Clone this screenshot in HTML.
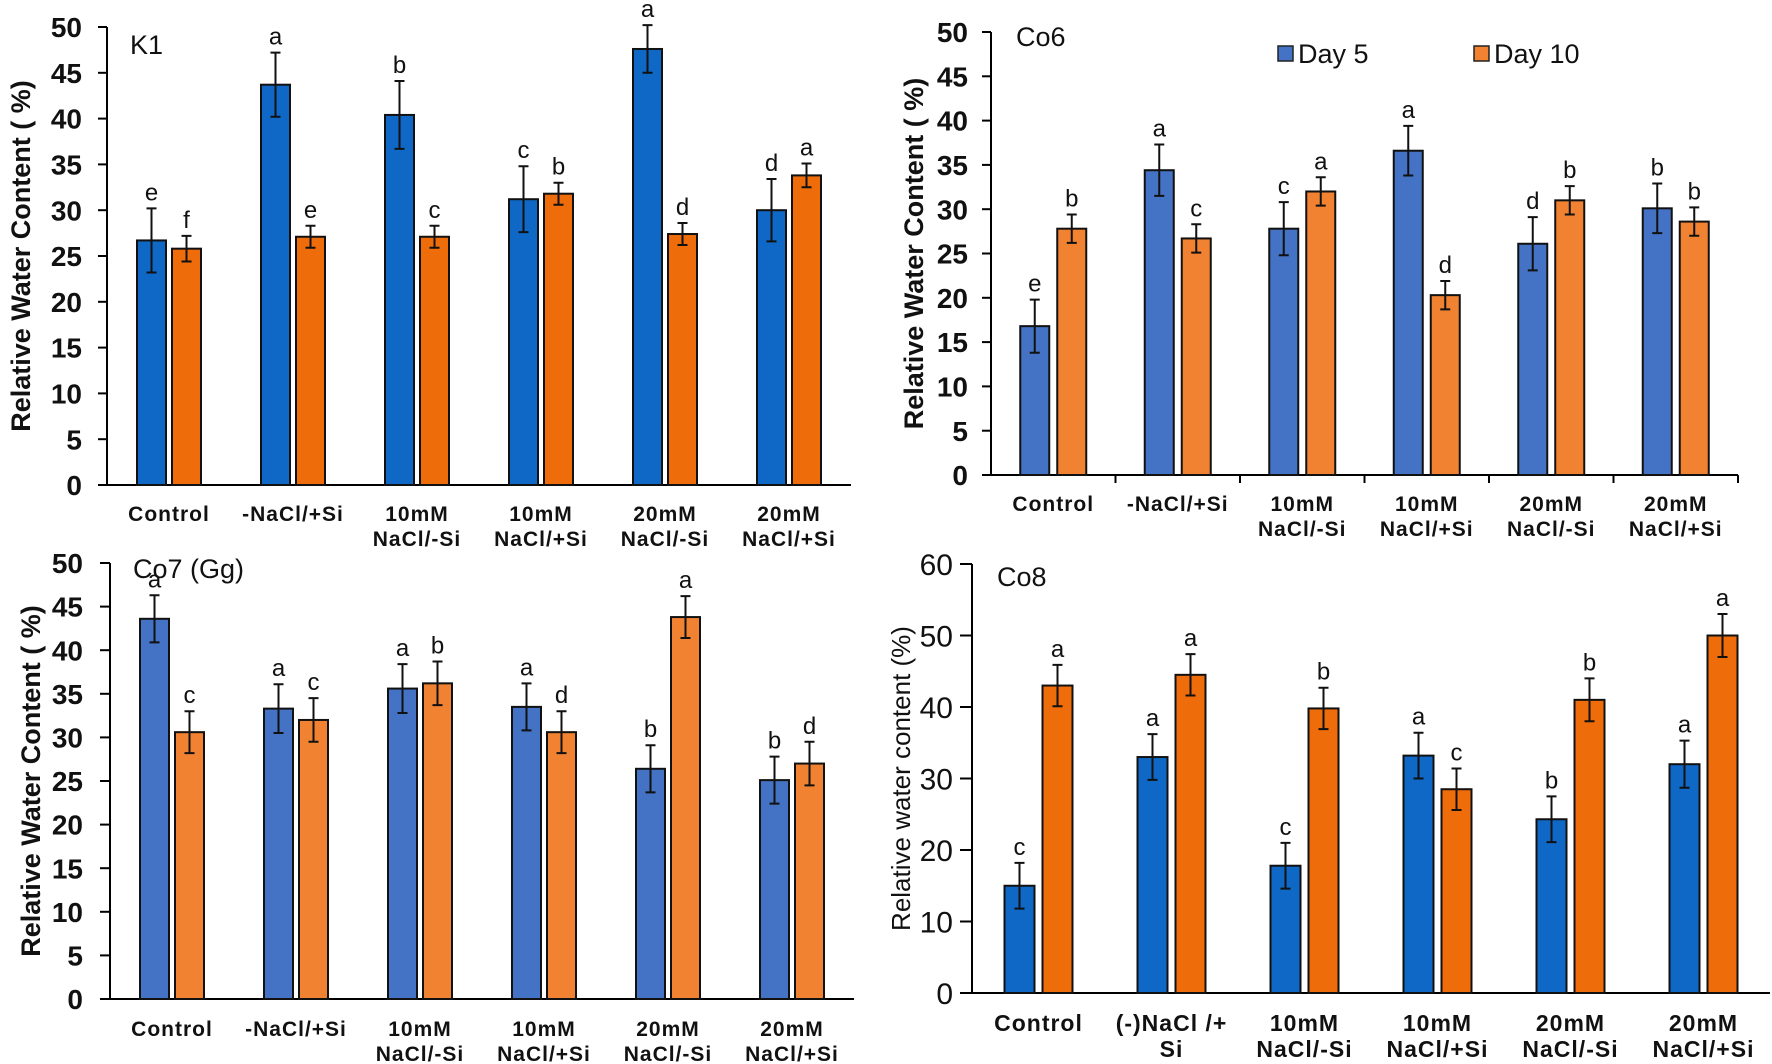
<!DOCTYPE html>
<html><head><meta charset="utf-8">
<style>
html,body{margin:0;padding:0;background:#fff;}
svg{display:block;font-family:"Liberation Sans",Arial,sans-serif;}
</style></head>
<body>
<svg id="fig" width="1772" height="1064" viewBox="0 0 1772 1064" xmlns="http://www.w3.org/2000/svg"></svg>
<script>
const categories1 = [["Control"],["-NaCl/+Si"],["10mM","NaCl/-Si"],["10mM","NaCl/+Si"],["20mM","NaCl/-Si"],["20mM","NaCl/+Si"]];
const categories4 = [["Control"],["(-)NaCl /+","Si"],["10mM","NaCl/-Si"],["10mM","NaCl/+Si"],["20mM","NaCl/-Si"],["20mM","NaCl/+Si"]];
const ticks50 = [0,5,10,15,20,25,30,35,40,45,50];
const ticks60 = [0,10,20,30,40,50,60];

const k1Day5 = [26.7,43.7,40.4,31.2,47.6,30.0];
const k1Day5Err = [3.5,3.5,3.7,3.6,2.6,3.4];
const k1Day10 = [25.8,27.1,27.1,31.8,27.4,33.8];
const k1Day10Err = [1.4,1.2,1.2,1.2,1.2,1.3];
const k1Let5 = ["e","a","b","c","a","d"];
const k1Let10 = ["f","e","c","b","d","a"];

const co6Day5 = [16.8,34.4,27.8,36.6,26.1,30.1];
const co6Day5Err = [3.0,2.9,3.0,2.8,3.0,2.8];
const co6Day10 = [27.8,26.7,32.0,20.3,31.0,28.6];
const co6Day10Err = [1.6,1.6,1.6,1.6,1.6,1.6];
const co6Let5 = ["e","a","c","a","d","b"];
const co6Let10 = ["b","c","a","d","b","b"];

const co7Day5 = [43.6,33.3,35.6,33.5,26.4,25.1];
const co7Day5Err = [2.7,2.8,2.8,2.7,2.7,2.7];
const co7Day10 = [30.6,32.0,36.2,30.6,43.8,27.0];
const co7Day10Err = [2.4,2.5,2.5,2.4,2.4,2.5];
const co7Let5 = ["a","a","a","a","b","b"];
const co7Let10 = ["c","c","b","d","a","d"];

const co8Day5 = [15.0,33.0,17.8,33.2,24.3,32.0];
const co8Day5Err = [3.2,3.2,3.2,3.2,3.2,3.3];
const co8Day10 = [43.0,44.5,39.8,28.5,41.0,50.0];
const co8Day10Err = [2.9,2.9,2.9,2.9,3.0,3.0];
const co8Let5 = ["c","a","c","a","b","a"];
const co8Let10 = ["a","a","b","c","b","a"];

const NS="http://www.w3.org/2000/svg";
const svg=document.getElementById('fig');
function mk(tag,attrs,parent){const e=document.createElementNS(NS,tag);for(const k in attrs)e.setAttribute(k,attrs[k]);(parent||svg).appendChild(e);return e;}

function panel(o){
  const g=mk('g',{});
  
  
  const yMax=o.ticks[o.ticks.length-1];
  const y=v=>o.y0-(v/yMax)*(o.y0-o.yTop);
  const x=i=>o.x0+o.cw*(i+0.5);
  const ya=mk('line',{x1:o.x0,y1:o.yTop,x2:o.x0,y2:o.y0,stroke:'#000','stroke-width':2},g);
  
  
  const xa=mk('line',{x1:o.x0,y1:o.y0,x2:o.x0+o.cw*6,y2:o.y0,stroke:'#000','stroke-width':2},g);
  
  
  o.ticks.forEach(t=>{
    mk('line',{x1:o.x0-o.tl,y1:y(t),x2:o.x0,y2:y(t),stroke:'#000','stroke-width':2},g);
    const tx=mk('text',{x:o.tickRight,y:y(t)+o.tickSize*0.36,'text-anchor':'end','font-size':o.tickSize,'font-weight':o.tickBold?'bold':'normal',fill:'#111'},g);
    tx.textContent=t;
    
    
  });
  if(o.catTicks){for(let i=1;i<=6;i++){mk('line',{x1:o.x0+o.cw*i,y1:o.y0,x2:o.x0+o.cw*i,y2:o.y0+8,stroke:'#000','stroke-width':2},g);}}
  const yt=mk('text',{x:0,y:0,transform:`translate(${o.ytX},${(o.yTop+o.y0)/2}) rotate(-90)`,'text-anchor':'middle','font-size':o.ytSize,'font-weight':o.ytBold?'bold':'normal',fill:'#111'},g);
  yt.textContent=o.yTitle;
  
  
  const pt=mk('text',{x:o.titleX,y:o.titleY,'font-size':27,fill:'#111'},g);
  pt.textContent=o.title;
  
  
  o.cats.forEach((c,i)=>{
    c.forEach((line,j)=>{
      const t=mk('text',{x:x(i),y:o.catY+j*o.catGap,'text-anchor':'middle','font-size':o.catSize,'font-weight':'bold','letter-spacing':1,fill:'#111'},g);
      t.textContent=line;
      
      
    });
  });
  const series=[[o.d5,o.e5,o.l5,o.c5,-o.off],[o.d10,o.e10,o.l10,o.c10,o.off]];
  series.forEach((s,si)=>{
    s[0].forEach((v,i)=>{
      const cx=x(i)+s[4];
      const r=mk('rect',{x:cx-o.bw/2,y:y(v),width:o.bw,height:o.y0-y(v),fill:s[3],stroke:'#111','stroke-width':2},g);
      
      
      const hi=y(v+s[1][i]),lo=y(v-s[1][i]);
      const eb=mk('path',{d:`M${cx},${hi}V${lo}M${cx-5},${hi}H${cx+5}M${cx-5},${lo}H${cx+5}`,stroke:'#111','stroke-width':2,fill:'none'},g);
      
      
      const lt=mk('text',{x:cx,y:hi-8,'text-anchor':'middle','font-size':24,fill:'#111'},g);
      lt.textContent=s[2][i];
      
      
    });
  });
}

const B1='#1068c6',O1='#ee6c0a',B2='#4472c4',O2='#f08232';
panel({name:'panel-k1',x0:107,cw:124,y0:485,yTop:27,ticks:ticks50,tl:9,tickRight:82,tickSize:28,tickBold:true,catTicks:false,
  ytX:30,ytSize:27,ytBold:true,yTitle:'Relative Water Content ( %)',title:'K1',titleX:130,titleY:54,cats:categories1,catY:521,catGap:25,catSize:21,
  d5:k1Day5,e5:k1Day5Err,l5:k1Let5,c5:B1,d10:k1Day10,e10:k1Day10Err,l10:k1Let10,c10:O1,off:17.5,bw:29});
panel({name:'panel-co6',x0:991,cw:124.5,y0:475,yTop:32,ticks:ticks50,tl:9,tickRight:968,tickSize:28,tickBold:true,catTicks:true,
  ytX:923,ytSize:27,ytBold:true,yTitle:'Relative Water Content ( %)',title:'Co6',titleX:1016,titleY:46,cats:categories1,catY:511,catGap:25,catSize:21,
  d5:co6Day5,e5:co6Day5Err,l5:co6Let5,c5:B2,d10:co6Day10,e10:co6Day10Err,l10:co6Let10,c10:O2,off:18.5,bw:29});
panel({name:'panel-co7',x0:110,cw:124,y0:999,yTop:563,ticks:ticks50,tl:10,tickRight:83,tickSize:28,tickBold:true,catTicks:false,
  ytX:40,ytSize:27,ytBold:true,yTitle:'Relative Water Content ( %)',title:'Co7 (Gg)',titleX:133,titleY:578,cats:categories1,catY:1036,catGap:25,catSize:21,
  d5:co7Day5,e5:co7Day5Err,l5:co7Let5,c5:B2,d10:co7Day10,e10:co7Day10Err,l10:co7Let10,c10:O2,off:17.5,bw:29});
panel({name:'panel-co8',x0:972,cw:133,y0:993,yTop:564,ticks:ticks60,tl:12,tickRight:953,tickSize:30,tickBold:false,catTicks:false,
  ytX:910,ytSize:26,ytBold:false,yTitle:'Relative water content (%)',title:'Co8',titleX:997,titleY:586,cats:categories4,catY:1031,catGap:26,catSize:23,
  d5:co8Day5,e5:co8Day5Err,l5:co8Let5,c5:B1,d10:co8Day10,e10:co8Day10Err,l10:co8Let10,c10:O1,off:19,bw:30});

const leg=mk('g',{});


[[1278,'Day 5',B2],[1474,'Day 10',O2]].forEach(([lx,lab,col])=>{
  const e=mk('g',{},leg);
  
  
  mk('rect',{x:lx,y:46,width:15,height:15,fill:col,stroke:'#222','stroke-width':1.5},e);
  const t=mk('text',{x:lx+20,y:63,'font-size':27,fill:'#111'},e);
  t.textContent=lab;
});
</script>
</body></html>
